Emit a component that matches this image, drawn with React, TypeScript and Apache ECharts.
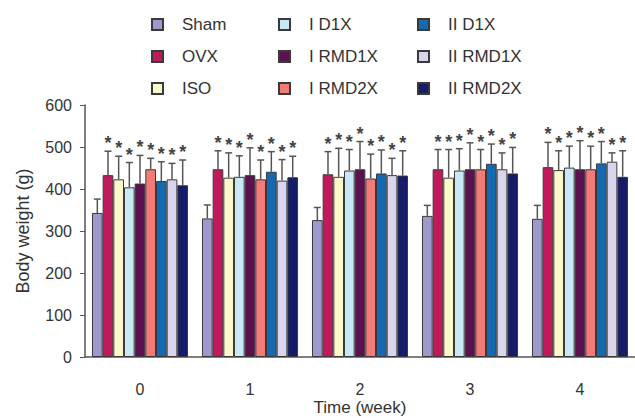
import React, { useEffect, useRef } from "react";
import * as echarts from "echarts";

const weeks = ["0", "1", "2", "3", "4"];
const groupNames = ["Sham", "OVX", "ISO", "I D1X", "I RMD1X", "I RMD2X", "II D1X", "II RMD1X", "II RMD2X"];
const groupColors = ["#9d99cd", "#c11a5c", "#fbf8c9", "#c9e8f5", "#5b1150", "#f27b78", "#1469b1", "#d9d5ed", "#151d6a"];

const shamMean = [343, 330, 326, 336, 329];
const ovxMean = [433, 447, 435, 447, 452];
const isoMean = [423, 427, 429, 427, 445];
const iD1XMean = [404, 429, 444, 444, 451];
const iRMD1XMean = [413, 433, 447, 447, 447];
const iRMD2XMean = [447, 423, 425, 447, 447];
const iiD1XMean = [419, 441, 437, 460, 461];
const iiRMD1XMean = [423, 420, 433, 447, 465];
const iiRMD2XMean = [409, 428, 432, 437, 429];

const shamSD = [33, 32, 30, 25, 32];
const ovxSD = [57, 44, 54, 47, 59];
const isoSD = [55, 59, 68, 67, 46];
const iD1XSD = [59, 50, 50, 52, 51];
const iRMD1XSD = [67, 65, 66, 63, 68];
const iRMD2XSD = [26, 46, 58, 47, 55];
const iiD1XSD = [46, 48, 56, 47, 52];
const iiRMD1XSD = [38, 50, 40, 39, 21];
const iiRMD2XSD = [60, 50, 59, 62, 62];

const significant = [false, true, true, true, true, true, true, true, true];

const yTicks = { min: 0, max: 600, interval: 100 };

const means = [shamMean, ovxMean, isoMean, iD1XMean, iRMD1XMean, iRMD2XMean, iiD1XMean, iiRMD1XMean, iiRMD2XMean];
const sds = [shamSD, ovxSD, isoSD, iD1XSD, iRMD1XSD, iRMD2XSD, iiD1XSD, iiRMD1XSD, iiRMD2XSD];

const FONT = "Liberation Sans, Arial, sans-serif";
const CAT_GAP = 0.127;

export default function App() {
  const ref = useRef<HTMLDivElement>(null);
  useEffect(() => {
    if (!ref.current) return;
    const chart = echarts.init(ref.current, null, { renderer: "svg" });

    const barSeries = groupNames.map((name, i) => ({
      name,
      type: "bar",
      data: means[i],
      barGap: "0%",
      barCategoryGap: (CAT_GAP * 100).toFixed(1) + "%",
      itemStyle: { color: groupColors[i], borderColor: "#3a3a3a", borderWidth: 1 },
      emphasis: { disabled: true },
    }));

    const errData: number[][] = [];
    weeks.forEach((_, c) => {
      groupNames.forEach((_, s) => {
        errData.push([c, s, means[s][c], sds[s][c], significant[s] ? 1 : 0]);
      });
    });

    const n = groupNames.length;
    const errSeries = {
      type: "custom",
      z: 5,
      encode: { x: 0, y: 2 },
      data: errData,
      renderItem: (params: any, api: any) => {
        const c = api.value(0);
        const s = api.value(1);
        const m = api.value(2);
        const sd = api.value(3);
        const star = api.value(4);
        const band = api.size([1, 0])[0];
        const total = band * (1 - CAT_GAP);
        const bw = total / n;
        const cx = api.coord([c, 0])[0] - total / 2 + bw * (s + 0.5);
        const yBar = api.coord([c, m])[1];
        const yTop = api.coord([c, m + sd])[1];
        const children: any[] = [
          { type: "line", shape: { x1: cx, y1: yBar, x2: cx, y2: yTop }, style: { stroke: "#555", lineWidth: 1.5 } },
          { type: "line", shape: { x1: cx - 3.5, y1: yTop, x2: cx + 3.5, y2: yTop }, style: { stroke: "#555", lineWidth: 1.5 } },
        ];
        if (star) {
          children.push({
            type: "text",
            style: {
              text: "*",
              x: cx,
              y: yTop + 1,
              align: "center",
              verticalAlign: "bottom",
              fontSize: 18,
              fontWeight: "bold",
              fontFamily: FONT,
              fill: "#444",
            },
          });
        }
        return { type: "group", children };
      },
    };

    const legendBase = {
      orient: "vertical",
      top: 16,
      padding: 0,
      itemWidth: 11,
      itemHeight: 11,
      itemGap: 15,
      icon: "rect",
      selectedMode: false,
      textStyle: { fontSize: 17, color: "#333", fontFamily: FONT, padding: [0, 0, 0, 14] },
    };

    chart.setOption({
      animation: false,
      textStyle: { fontFamily: FONT },
      legend: [
        { ...legendBase, left: 151, data: groupNames.slice(0, 3) },
        { ...legendBase, left: 278, data: groupNames.slice(3, 6) },
        { ...legendBase, left: 417, data: groupNames.slice(6, 9) },
      ],
      grid: { left: 85, right: 0, top: 105, bottom: 61, containLabel: false, outerBoundsMode: "none" },
      xAxis: {
        type: "category",
        data: weeks,
        name: "Time (week)",
        nameLocation: "middle",
        nameGap: 42,
        nameMoveOverlap: false,
        nameTextStyle: { fontSize: 17, color: "#333", fontFamily: FONT },
        axisLine: { lineStyle: { color: "#555", width: 1.5 } },
        axisTick: { inside: true, length: 5, lineStyle: { color: "#555" } },
        axisLabel: { fontSize: 16, color: "#333", margin: 24, fontFamily: FONT },
      },
      yAxis: {
        type: "value",
        min: yTicks.min,
        max: yTicks.max,
        interval: yTicks.interval,
        name: "Body weight (g)",
        nameLocation: "middle",
        nameGap: 53,
        nameMoveOverlap: false,
        nameTextStyle: { fontSize: 18, color: "#333", fontFamily: FONT },
        splitLine: { show: false },
        axisLine: { show: true, lineStyle: { color: "#555", width: 1.5 } },
        axisTick: { show: true, length: 5, lineStyle: { color: "#555" } },
        axisLabel: { fontSize: 16, color: "#333", margin: 13, fontFamily: FONT },
      },
      series: [...barSeries, errSeries],
    });
    return () => chart.dispose();
  }, []);
  return <div ref={ref} style={{ position: "absolute", left: 0, top: 0, width: 635, height: 418 }} />;
}
